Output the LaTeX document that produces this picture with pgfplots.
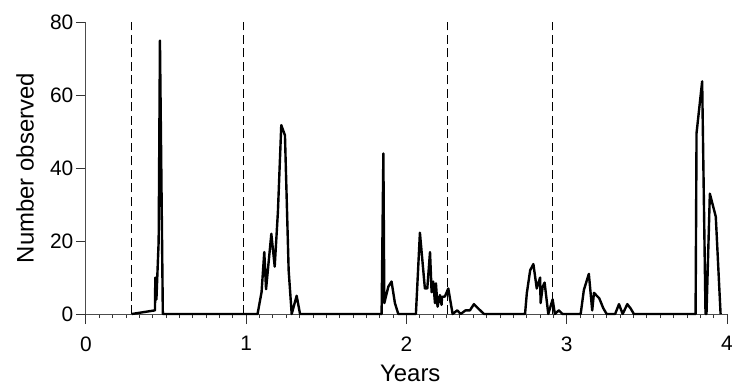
\documentclass[border=0pt]{standalone}
\usepackage{fontspec}
\setmainfont{Liberation Sans}
\usepackage{pgfplots}
\pgfplotsset{compat=1.18}
\begin{document}
\begin{tikzpicture}
\begin{axis}[
  scale only axis, width=641.1bp, height=291.7bp,
  xmin=0, xmax=4, ymin=0, ymax=80,
  axis lines=left, axis line style={-, draw=black!70, line width=0.9bp},
  xtick={0,1,2,3,4}, ytick={0,20,40,60,80},
  minor x tick num=11,
  tick align=outside, major tick length=10bp, minor tick length=4bp,
  tick style={black!80, line width=0.8bp},
  ticklabel style={font=\fontsize{21}{24}\selectfont},
  xticklabel style={yshift=-9bp},
  yticklabel style={xshift=1bp},
  /pgf/number format/assume math mode=true,
  xlabel={Years}, ylabel={Number observed},
  label style={font=\fontsize{24}{28}\selectfont},
  xlabel style={at={(axis description cs:0.506,-0.205)}, anchor=center},
  ylabel style={at={(axis description cs:-0.095,0.5)}, anchor=center},
  clip=false,
]
% dashed reference lines
\addplot[black, line width=0.8bp, dash pattern=on 9bp off 4.5bp] coordinates {(0.286,0) (0.286,80)};
\addplot[black, line width=0.8bp, dash pattern=on 9bp off 4.5bp] coordinates {(0.982,0) (0.982,80)};
\addplot[black, line width=0.8bp, dash pattern=on 9bp off 4.5bp] coordinates {(2.257,0) (2.257,80)};
\addplot[black, line width=0.8bp, dash pattern=on 9bp off 4.5bp] coordinates {(2.91,0) (2.91,80)};
% observations
\addplot[black, line width=2.4bp, line join=round] coordinates {
(0.286,0) (0.431,1) (0.433,10) (0.44,4) (0.454,20) (0.462,75) (0.48,0)
(1.071,0) (1.096,6) (1.113,17) (1.124,6.8) (1.157,22) (1.178,13) (1.198,28) (1.219,51.8) (1.242,49) (1.265,12) (1.284,0) (1.315,5) (1.336,0)
(1.845,0) (1.856,44) (1.862,3) (1.887,7.5) (1.907,8.9) (1.928,3) (1.949,0)
(2.059,0) (2.084,22.3) (2.115,7) (2.130,7) (2.147,17) (2.157,6) (2.167,8.9) (2.178,3) (2.184,8.4) (2.194,2) (2.209,5.2) (2.219,2.5) (2.222,4.7) (2.24,4.8) (2.261,7) (2.288,0)
(2.317,1) (2.338,0) (2.369,1) (2.396,1) (2.421,2.7) (2.448,1.5) (2.484,0)
(2.74,0) (2.751,5.7) (2.772,12) (2.792,13.7) (2.813,7) (2.834,10) (2.837,3) (2.850,7.5) (2.862,8.6) (2.885,0) (2.912,4) (2.926,0) (2.951,1) (2.974,0)
(3.087,0) (3.107,6.6) (3.138,11) (3.159,1) (3.170,5.8) (3.203,4.3) (3.228,1.6) (3.249,0)
(3.302,0) (3.326,2.7) (3.349,0) (3.378,2.7) (3.399,1.5) (3.419,0)
(3.804,0) (3.81,49.6) (3.845,63.8) (3.866,0) (3.872,0) (3.893,33) (3.930,26.7) (3.96,0)
};
\end{axis}
\pgfresetboundingbox
\path (-85.9bp,-73bp) rectangle (646.1bp,314bp);
\end{tikzpicture}
\end{document}
